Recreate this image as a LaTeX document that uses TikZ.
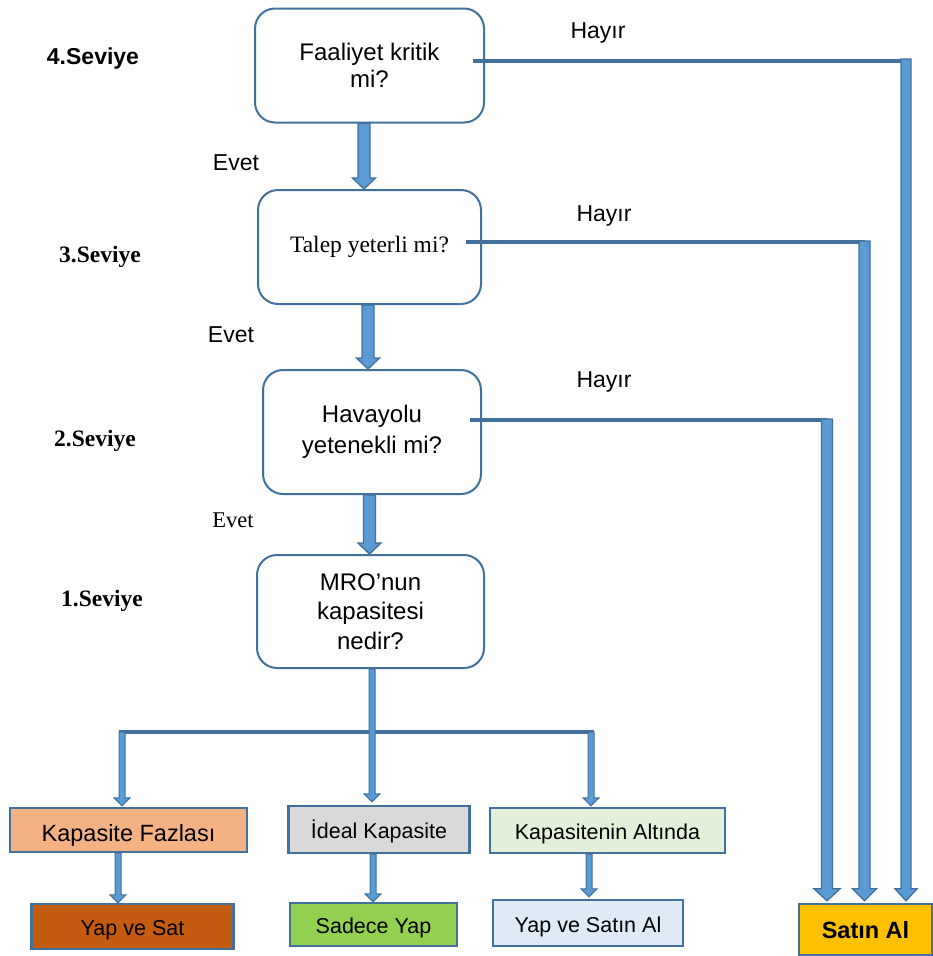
\documentclass[tikz,border=0pt]{standalone}
\usepackage{fontspec}
\setmainfont{Liberation Sans}
\newfontfamily\serifface{Liberation Serif}
\usetikzlibrary{calc}

\definecolor{outl}{HTML}{41719C}
\definecolor{arrfill}{HTML}{5B9BD5}
\definecolor{fazla}{HTML}{F4B183}
\definecolor{yapsat}{HTML}{C55A11}
\definecolor{ideal}{HTML}{D9D9D9}
\definecolor{sadece}{HTML}{92D050}
\definecolor{altinda}{HTML}{E2F0D9}
\definecolor{yapsatin}{HTML}{DEEBF7}
\definecolor{satin}{HTML}{FFC000}

% vertical block arrow: #2 start (gives x and top), #3 target (gives tip y),
% #4 half shaft width, #5 half head width, #6 head length
\newcommand\blkarrow[6][]{%
  \path[blockarrow,#1] let \p1=(#2), \p2=(#3) in
    (\x1-#4,\y1) -- (\x1-#4,\y2+#6) -- (\x1-#5,\y2+#6) -- (\x1,\y2)
    -- (\x1+#5,\y2+#6) -- (\x1+#4,\y2+#6) -- (\x1+#4,\y1) -- cycle;}

\begin{document}
\begin{tikzpicture}[x=1pt,y=-1pt,
  decision/.style={draw=outl, line width=2pt, rounded corners=20pt, fill=white,
    align=center, inner sep=0pt, font=\fontsize{24}{29.5}\selectfont},
  result/.style={draw=outl, line width=2.4pt, inner sep=0pt,
    text height=18pt, text depth=0pt,
    font=\fontsize{21.5}{26}\selectfont},
  level/.style={font=\fontsize{23}{28}\selectfont\bfseries},
  levelserif/.style={font=\fontsize{23.5}{28}\selectfont\serifface\bfseries},
  answer/.style={font=\fontsize{23}{28}\selectfont},
  answerserif/.style={font=\fontsize{22.5}{28}\selectfont\serifface},
  hline/.style={draw=outl, line width=4pt},
  blockarrow/.style={fill=arrfill, draw=outl, line width=1.3pt, line join=miter},
  thinarrow/.style={line width=1pt}]

\useasboundingbox (0,0) rectangle (933,956);

% decision boxes
\node[decision, minimum width=229pt, minimum height=114pt,
  font=\fontsize{24}{27}\selectfont] (b4) at (369.5,65.5)
  {Faaliyet kritik\\mi?};
\node[decision, minimum width=223pt, minimum height=114pt,
  font=\fontsize{23.5}{28}\selectfont\serifface] (b3) at (369.5,247)
  {Talep yeterli mi?};
\node[decision, minimum width=218pt, minimum height=124pt,
  font=\fontsize{24}{31}\selectfont] (b2) at (372,432)
  {Havayolu\\yetenekli mi?};
\node[decision, minimum width=227pt, minimum height=113pt] (b1) at (370.5,611.5)
  {MRO’nun\\kapasitesi\\nedir?};

% level labels
\node[level] (l4) at (93,59) {4.Seviye};
\node[levelserif] (l3) at (100,257) {3.Seviye};
\node[levelserif] (l2) at (95,441) {2.Seviye};
\node[levelserif] (l1) at (102,601) {1.Seviye};

% answer labels
\node[answer] (e4) at (236,163) {Evet};
\node[answer] (e3) at (231,335) {Evet};
\node[answerserif] (e2) at (233,520) {Evet};
\node[answer] (h4) at (598,33) {Hayır};
\node[answer] (h3) at (604,216) {Hayır};
\node[answer] (h2) at (604,382) {Hayır};

% outcome boxes
\node[result, fill=fazla, minimum width=237pt, minimum height=44pt,
  text height=23pt, font=\fontsize{23.5}{28}\selectfont] (kf) at (128.5,830)
  {Kapasite Fazlası};
\node[result, fill=ideal, minimum width=181pt, minimum height=47pt] (ik) at (379,829.5)
  {İdeal Kapasite};
\node[result, fill=altinda, minimum width=235pt, minimum height=45pt] (ka) at (607.5,830.5)
  {Kapasitenin Altında};
\node[result, fill=yapsat, minimum width=202pt, minimum height=45pt] (ys) at (132.5,926.5)
  {Yap ve Sat};
\node[result, fill=sadece, minimum width=167pt, minimum height=43pt] (sy) at (373.5,924.5)
  {Sadece Yap};
\node[result, fill=yapsatin, minimum width=190pt, minimum height=46pt] (ysa) at (588,923)
  {Yap ve Satın Al};
\node[result, fill=satin, minimum width=133pt, minimum height=51pt,
  text height=17pt, font=\fontsize{23.5}{28}\selectfont\bfseries] (sa) at (865.5,929.5)
  {Satın Al};

% "Evet" arrows between the levels
\blkarrow{[xshift=-5.5pt]b4.south}{b3.north}{6pt}{11.5pt}{11pt}
\blkarrow{[xshift=-1.5pt]b3.south}{b2.north}{6pt}{11.5pt}{11pt}
\blkarrow{[xshift=-2.5pt]b2.south}{b1.north}{6pt}{11.5pt}{11pt}

% "Hayır" branches to Satın Al
\coordinate (j4) at (906,61);
\coordinate (j3) at (864.5,242);
\coordinate (j2) at (827,420);
\draw[hline] ([shift={(-12pt,4.5pt)}]b4.east) -- (j4);
\draw[hline] ([shift={(-16pt,5pt)}]b3.east) -- (j3);
\draw[hline] ([shift={(-12pt,12pt)}]b2.east) -- (j2);
\blkarrow{[yshift=2pt]j4}{[yshift=2pt]sa.north}{5pt}{11pt}{12pt}
\blkarrow{[yshift=1pt]j3}{[yshift=2pt]sa.north}{5.5pt}{12pt}{12pt}
\blkarrow{[yshift=1pt]j2}{[yshift=2pt]sa.north}{5.5pt}{13pt}{12pt}

% capacity split
\coordinate (sl) at (122,732);
\coordinate (sr) at (591,732);
\draw[hline] ([xshift=-3pt]sl) -- ([xshift=3pt]sr);
\blkarrow[thinarrow]{sl}{[yshift=1pt]kf.north}{3pt}{8pt}{8pt}
\blkarrow[thinarrow]{sr}{[yshift=1pt]ka.north}{3pt}{8pt}{8pt}
\blkarrow[thinarrow]{[xshift=1.5pt]b1.south}{[yshift=3pt]ik.north}{3pt}{8pt}{8pt}

% outcomes of each capacity case
\blkarrow[thinarrow]{[xshift=-10.5pt]kf.south}{ys.north}{3pt}{8pt}{8pt}
\blkarrow[thinarrow]{[xshift=-6pt]ik.south}{sy.north}{3pt}{8pt}{8pt}
\blkarrow[thinarrow]{[xshift=-18.5pt]ka.south}{[yshift=2pt]ysa.north}{3pt}{8pt}{8pt}

\end{tikzpicture}
\end{document}
